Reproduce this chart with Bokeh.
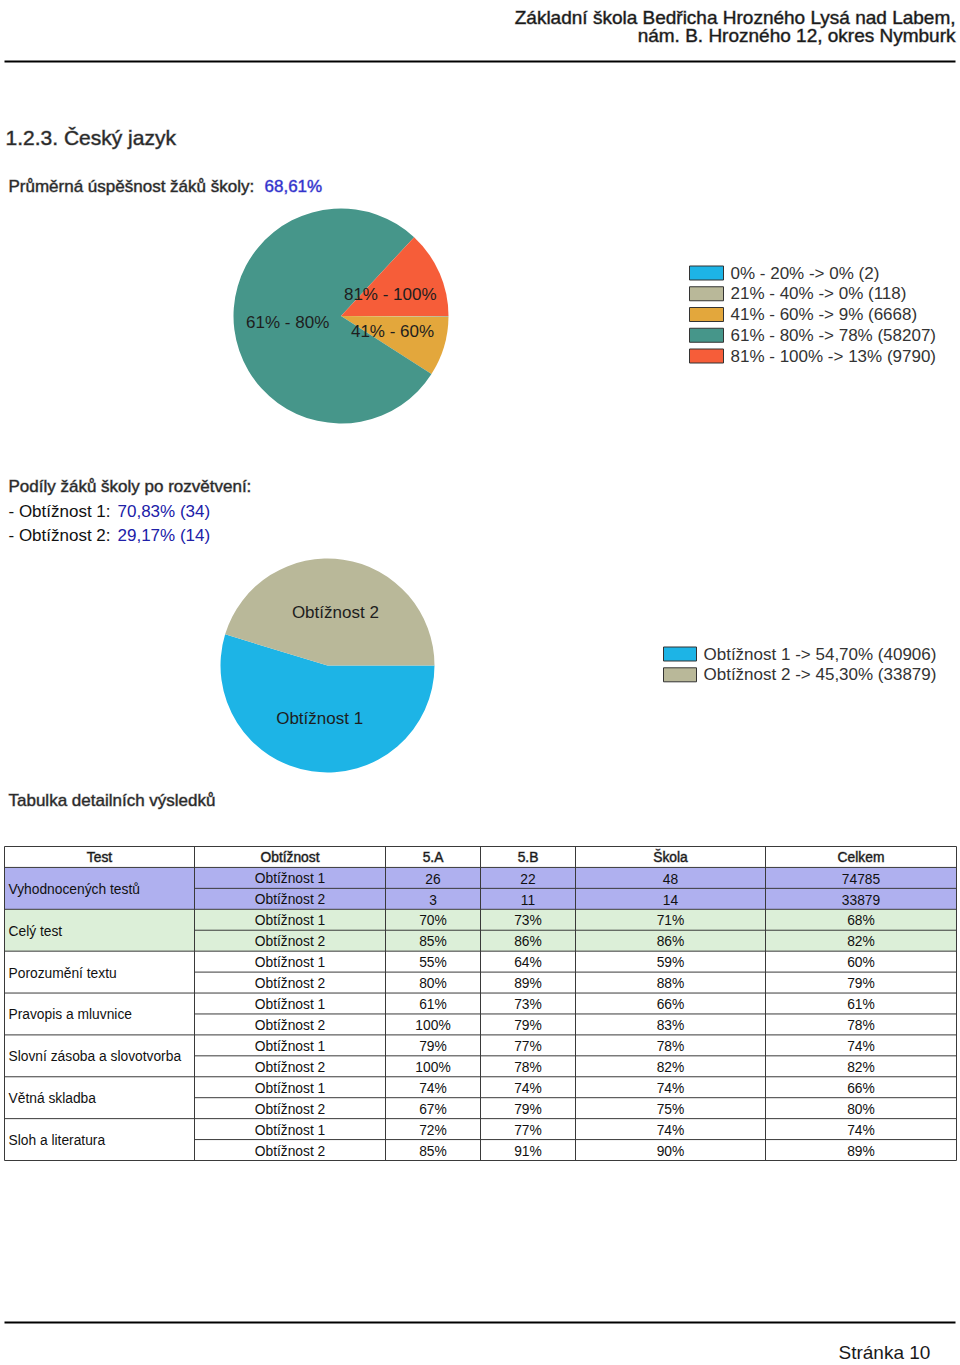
import numpy as np
from bokeh.plotting import figure
from bokeh.models import Range1d
from bokeh.embed import file_html
from bokeh.resources import INLINE
from bokeh.core.properties import value

# ---------------- data ----------------
header_lines = ["Základní škola Bedřicha Hrozného Lysá nad Labem,",
                "nám. B. Hrozného 12, okres Nymburk"]
section_title = "1.2.3. Český jazyk"
avg_label = "Průměrná úspěšnost žáků školy:"
avg_value = "68,61%"

band_labels = ["0% - 20%", "21% - 40%", "41% - 60%", "61% - 80%", "81% - 100%"]
band_counts = [2, 118, 6668, 58207, 9790]
band_pcts = [0, 0, 9, 78, 13]
band_colors = ["#1db4e6", "#b9b899", "#e3a73c", "#46968a", "#f65d39"]

branch_title = "Podíly žáků školy po rozvětvení:"
branch_labels = ["Obtížnost 1", "Obtížnost 2"]
branch_school_pcts = ["70,83%", "29,17%"]
branch_school_counts = [34, 14]
branch_total_pcts = ["54,70%", "45,30%"]
branch_total_counts = [40906, 33879]
branch_colors = ["#1db4e6", "#b9b899"]

table_title = "Tabulka detailních výsledků"
table_columns = ["Test", "Obtížnost", "5.A", "5.B", "Škola", "Celkem"]
test_names = ["Vyhodnocených testů", "Celý test", "Porozumění textu",
              "Pravopis a mluvnice", "Slovní zásoba a slovotvorba",
              "Větná skladba", "Sloh a literatura"]
difficulty_labels = ["Obtížnost 1", "Obtížnost 2"]
values_5a = [26, 3, 70, 85, 55, 80, 61, 100, 79, 100, 74, 67, 72, 85]
values_5b = [22, 11, 73, 86, 64, 89, 73, 79, 77, 78, 74, 79, 77, 91]
values_skola = [48, 14, 71, 86, 59, 88, 66, 83, 78, 82, 74, 75, 74, 90]
values_celkem = [74785, 33879, 68, 82, 60, 79, 61, 78, 74, 82, 66, 80, 74, 89]
group_fills = ["#afb0ef", "#dcefd8", None, None, None, None, None]
page_label = "Stránka 10"

# ---------------- figure ----------------
W, H = 960, 1365
p = figure(width=W, height=H, x_range=Range1d(0, W), y_range=Range1d(0, H),
           output_backend="svg", toolbar_location=None,
           x_axis_type=None, y_axis_type=None, min_border=0,
           outline_line_color=None, background_fill_color="white")
p.grid.visible = False


def Y(py):
    return H - py


FONT = value("Liberation Sans")


def text(xs, pys, texts, size, color="#222222", align="left", baseline="middle", heavy=False):
    kw = dict(x=list(xs), y=[Y(v) for v in pys], text=list(texts), text_font=FONT,
              text_font_size=f"{size}px", text_color=color, text_align=align,
              text_baseline=baseline)
    if heavy:
        try:
            p.text(text_outline_color=color + "70", **kw)
            return
        except Exception:
            pass
    p.text(**kw)


def pie(cx, cy, r, counts, colors, labels, min_frac=0.05):
    c = np.array(counts, dtype=float)
    f = c / c.sum()
    cum = np.concatenate([[0.0], np.cumsum(f)])
    start = list(-2 * np.pi * cum[:-1])
    end = list(-2 * np.pi * cum[1:])
    p.wedge(x=cx, y=Y(cy), radius=r, start_angle=start, end_angle=end,
            direction="clock", fill_color=list(colors), line_color=None)
    mid = -np.pi * (cum[:-1] + cum[1:])
    keep = f >= min_frac
    lx = cx + 0.5 * r * np.cos(mid)
    ly = Y(cy) + 0.5 * r * np.sin(mid)
    p.text(x=list(lx[keep]), y=list(ly[keep]),
           text=[l for l, k in zip(labels, keep) if k], text_font=FONT,
           text_font_size="17px", text_color="#1e1e1e", text_align="center",
           text_baseline="middle")


# header
text([955, 955], [17, 35], header_lines, 19, "#1a1a1a", align="right",
     baseline="alphabetic", heavy=True)
p.segment(x0=[4], x1=[955], y0=[Y(61)], y1=[Y(61)], line_color="black", line_width=2)

# section title & average
text([5], [137], [section_title], 21, "#2a2a2a", heavy=True)
text([8], [186], [avg_label], 17, "#2a2a2a", heavy=True)
text([264], [186], [avg_value], 17, "#3333cc", heavy=True)

# pie 1 + legend
pie(340.5, 315.5, 107.5, band_counts, band_colors, band_labels)
leg1_y = [272.5 + 20.75 * i for i in range(len(band_labels))]
p.quad(left=689, right=723, top=[Y(v - 7) for v in leg1_y], bottom=[Y(v + 7) for v in leg1_y],
       fill_color=band_colors, line_color="#333333", line_width=1)
text([730] * len(band_labels), leg1_y,
     [f"{l} -> {pc}% ({n})" for l, pc, n in zip(band_labels, band_pcts, band_counts)],
     17, "#333333")

# branch info
text([8], [486], [branch_title], 17, "#2a2a2a", heavy=True)
for i, lab in enumerate(branch_labels):
    yy = 511 + 24 * i
    text([8], [yy], [f"- {lab}:"], 17, "#111111")
    text([117], [yy], [f"{branch_school_pcts[i]} ({branch_school_counts[i]})"], 17, "#2020a8")

# pie 2 + legend
pie(327, 665, 107, branch_total_counts, branch_colors, branch_labels)
leg2_y = [653.5 + 20.8 * i for i in range(len(branch_labels))]
p.quad(left=663, right=696, top=[Y(v - 7) for v in leg2_y], bottom=[Y(v + 7) for v in leg2_y],
       fill_color=branch_colors, line_color="#333333", line_width=1)
text([703] * len(branch_labels), leg2_y,
     [f"{l} -> {pc} ({n})" for l, pc, n in zip(branch_labels, branch_total_pcts, branch_total_counts)],
     17, "#333333")

# table
text([8], [800], [table_title], 17, "#2a2a2a", heavy=True)
col_edges = [4, 194, 385, 480, 575, 765, 956]
tbl_top = 846.0
row_h = (1160.0 - 846.0) / (1 + 2 * len(test_names))
n_rows = 2 * len(test_names)
tbl_bottom = tbl_top + row_h * (1 + n_rows)

for g, fc in enumerate(group_fills):
    if fc is None:
        continue
    t = tbl_top + row_h * (1 + 2 * g)
    p.quad(left=col_edges[0], right=col_edges[-1], top=Y(t), bottom=Y(t + 2 * row_h),
           fill_color=fc, line_color=None)

hx0, hx1, hy = [], [], []
for k in range(len(test_names) + 1):
    hy.append(tbl_top + row_h * (1 + 2 * k)); hx0.append(col_edges[0]); hx1.append(col_edges[-1])
hy.append(tbl_top); hx0.append(col_edges[0]); hx1.append(col_edges[-1])
for k in range(len(test_names)):
    hy.append(tbl_top + row_h * (2 + 2 * k)); hx0.append(col_edges[1]); hx1.append(col_edges[-1])
p.segment(x0=hx0, x1=hx1, y0=[Y(v) for v in hy], y1=[Y(v) for v in hy],
          line_color="#3a3a3a", line_width=1)
p.segment(x0=col_edges, x1=col_edges, y0=[Y(tbl_top)] * len(col_edges),
          y1=[Y(tbl_bottom)] * len(col_edges), line_color="#3a3a3a", line_width=1)

col_centers = [(a + b) / 2 for a, b in zip(col_edges[:-1], col_edges[1:])]
text(col_centers, [tbl_top + row_h / 2 + 1] * len(col_centers), table_columns, 13.8,
     "#1a1a1a", align="center", heavy=True)
text([8] * len(test_names), [tbl_top + row_h * (2 + 2 * g) + 1 for g in range(len(test_names))],
     test_names, 13.8, "#111111")
row_centers = [tbl_top + row_h * (1.5 + i) + 1 for i in range(n_rows)]


def fmt(i, v):
    return f"{v}" if i < 2 else f"{v}%"


text([col_centers[1]] * n_rows, row_centers, [difficulty_labels[i % 2] for i in range(n_rows)],
     13.8, "#111111", align="center")
for ci, vals in zip(range(2, 6), [values_5a, values_5b, values_skola, values_celkem]):
    text([col_centers[ci]] * n_rows, row_centers, [fmt(i, v) for i, v in enumerate(vals)],
         13.8, "#111111", align="center")

# footer
p.segment(x0=[4], x1=[955], y0=[Y(1322)], y1=[Y(1322)], line_color="black", line_width=2)
text([838], [1352], [page_label], 19, "#1a1a1a")

open("out.html", "w").write(file_html(p, INLINE))
